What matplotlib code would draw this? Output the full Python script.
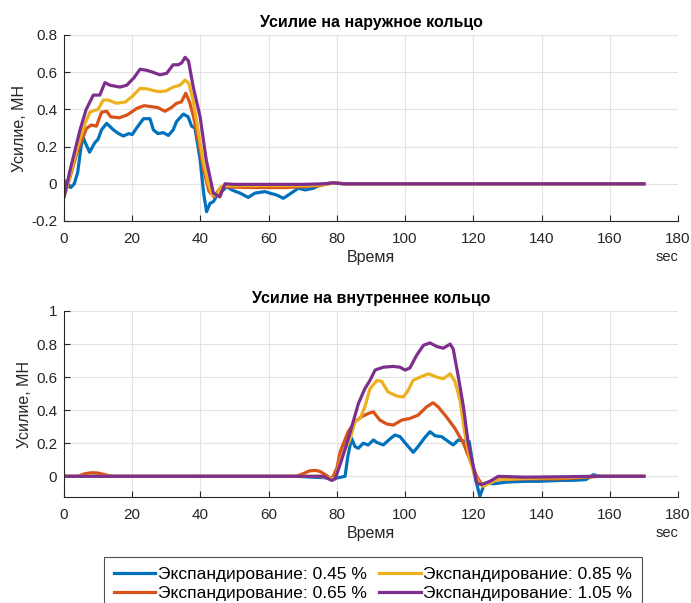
import matplotlib
matplotlib.use("Agg")
import matplotlib.pyplot as plt

plt.rcParams['font.family'] = ['Liberation Sans', 'DejaVu Sans']

# MATLAB default line colours
colors = ['#0072BD', '#D95319', '#EDB120', '#7E2F8E']
labels = ['Экспандирование: 0.45 %', 'Экспандирование: 0.65 %',
          'Экспандирование: 0.85 %', 'Экспандирование: 1.05 %']

# ---- outer ring force, MN ----
t_out_045 = [0, 1, 2, 3, 4, 5, 5.6, 6.5, 7.5, 9, 10, 11, 12.5, 14.5, 16, 17.4, 19, 20,
             21.3, 23.3, 25.2, 26.2, 27.5, 29.1, 30.6, 32, 33, 35, 36.4, 37.4, 38.4,
             39.9, 41, 41.8, 42.8, 43.8, 45.2, 46.7, 47.7, 49.2, 51.6, 54, 56, 58.9,
             60.3, 62.3, 64.3, 65.8, 68.7, 70.7, 73.1, 75, 77, 79, 82, 170]
f_out_045 = [0.02, -0.01, -0.02, 0.0, 0.06, 0.2, 0.25, 0.21, 0.17, 0.22, 0.24, 0.29,
             0.325, 0.29, 0.27, 0.257, 0.27, 0.265, 0.30, 0.35, 0.35, 0.29, 0.27, 0.275,
             0.26, 0.29, 0.335, 0.375, 0.36, 0.31, 0.30, 0.13, -0.06, -0.15, -0.105,
             -0.096, -0.05, -0.033, -0.015, -0.033, -0.05, -0.073, -0.05, -0.042, -0.05,
             -0.06, -0.078, -0.06, -0.024, -0.033, -0.024, -0.006, 0.0, 0.004, 0.0, 0.0]

t_out_065 = [0, 2, 4, 6.6, 8, 9.5, 11, 12.5, 13.7, 16.2, 18.5, 21.4, 23.5, 25.5, 27.5,
             29.6, 31.5, 33, 34.4, 35.7, 36.8, 38, 39.5, 41, 42.5, 44, 45.5, 47, 50, 55,
             60, 65, 70, 75, 78, 80, 83, 170]
f_out_065 = [-0.07, 0.05, 0.18, 0.298, 0.316, 0.31, 0.385, 0.39, 0.36, 0.355, 0.37,
             0.406, 0.42, 0.415, 0.41, 0.39, 0.41, 0.433, 0.44, 0.487, 0.44, 0.36, 0.22,
             0.07, -0.04, -0.07, -0.03, -0.015, -0.018, -0.02, -0.02, -0.02, -0.015,
             -0.01, 0.003, 0.004, 0.0, 0.0]

t_out_085 = [0, 2, 4, 6.2, 7.6, 9, 10, 11.5, 13, 15.4, 18, 20, 22.3, 24.5, 26.5, 28.1,
             30, 32, 34, 35.5, 36.6, 37.8, 39.2, 40.8, 42.3, 43.5, 44.8, 46, 48, 55, 65,
             72, 76, 79, 82, 170]
f_out_085 = [-0.07, 0.06, 0.2, 0.325, 0.385, 0.395, 0.40, 0.45, 0.45, 0.433, 0.44, 0.47,
             0.513, 0.51, 0.5, 0.495, 0.5, 0.52, 0.53, 0.558, 0.54, 0.45, 0.3, 0.12, 0.0,
             -0.06, -0.06, -0.015, -0.01, -0.01, -0.01, -0.01, -0.005, 0.004, 0.0, 0.0]

t_out_105 = [0, 2, 4.7, 6.5, 8.6, 10.5, 12, 13.5, 16.4, 18.4, 20.5, 22.3, 24.3, 26, 28.1,
             30.1, 32, 33.5, 34.5, 35.5, 36.5, 37.9, 39.9, 41.7, 43.8, 45.7, 47.2, 50,
             60, 70, 76, 79, 82, 170]
f_out_105 = [-0.07, 0.09, 0.29, 0.4, 0.477, 0.477, 0.544, 0.53, 0.52, 0.53, 0.57, 0.616,
             0.61, 0.6, 0.586, 0.594, 0.64, 0.64, 0.65, 0.68, 0.66, 0.52, 0.36, 0.128,
             -0.05, -0.07, 0.0, -0.003, -0.003, -0.003, 0.0, 0.005, 0.0, 0.0]

# ---- inner ring force, MN ----
t_in_045 = [0, 68, 78, 80, 82.4, 83.2, 84.3, 85.3, 86.3, 87.7, 89.2, 90.7, 91.7, 93.6,
            95.5, 97, 98.5, 100.5, 102.4, 103.8, 105.8, 107.3, 108.8, 110.7, 112.7,
            114.1, 115.6, 118, 118.8, 120.2, 121.9, 123, 123.9, 126, 129.8, 135, 139.5,
            145, 149.3, 153, 155.2, 157.1, 170]
f_in_045 = [0, 0, -0.01, -0.01, 0.0, 0.12, 0.23, 0.18, 0.17, 0.2, 0.19, 0.22, 0.205,
            0.19, 0.225, 0.25, 0.24, 0.19, 0.145, 0.18, 0.235, 0.27, 0.245, 0.24, 0.21,
            0.19, 0.22, 0.21, 0.21, 0.02, -0.12, -0.06, -0.04, -0.045, -0.035, -0.03,
            -0.03, -0.025, -0.024, -0.02, 0.01, 0.0, 0.0]

t_in_065 = [0, 4, 6, 8, 10, 12, 14, 68, 70, 72, 73.6, 75, 77, 78.5, 80, 81, 83.3, 85.3,
            87.2, 89.2, 90.7, 92.6, 94.6, 96.5, 99, 101.4, 103.8, 106.3, 108.2, 109.7,
            112.1, 114.6, 117.1, 119, 121, 122.5, 124, 126, 135, 145, 150, 157, 170]
f_in_065 = [0, 0.0, 0.015, 0.022, 0.02, 0.01, 0.0, 0.0, 0.015, 0.033, 0.036, 0.03, 0.005,
            -0.02, 0.05, 0.15, 0.27, 0.33, 0.36, 0.38, 0.39, 0.34, 0.317, 0.31, 0.34,
            0.35, 0.37, 0.42, 0.445, 0.42, 0.36, 0.29, 0.2, 0.1, 0.0, -0.05, -0.04,
            -0.02, -0.015, -0.015, -0.01, 0.0, 0.0]

t_in_085 = [0, 68, 75, 78.5, 79.5, 81.4, 83.8, 85.3, 86.8, 88.2, 89.7, 91.7, 93.1, 95,
            97.5, 99.5, 100.9, 102.3, 104.4, 106.8, 109.3, 111.2, 113.2, 114.6, 116.1,
            117.5, 119, 120.5, 122, 123, 125, 127, 133, 140, 148, 155, 170]
f_in_085 = [0, 0, 0, -0.015, -0.01, 0.12, 0.22, 0.33, 0.35, 0.42, 0.53, 0.58, 0.575,
            0.51, 0.486, 0.48, 0.52, 0.58, 0.6, 0.62, 0.6, 0.59, 0.62, 0.575, 0.46, 0.26,
            0.1, 0.0, -0.05, -0.06, -0.04, -0.02, -0.015, -0.01, -0.008, 0.0, 0.0]

t_in_105 = [0, 68, 76, 78.5, 79.5, 81.4, 83.8, 86.3, 88.2, 89.7, 91.2, 93.6, 96.5, 98.5,
            100, 101.4, 103.4, 105.4, 107.3, 109.3, 111.2, 113.2, 114.1, 115.6, 117.1,
            118.5, 120, 121, 122.4, 124.9, 127.3, 135, 145, 155, 170]
f_in_105 = [0, 0, 0, -0.025, -0.015, 0.1, 0.26, 0.44, 0.53, 0.58, 0.643, 0.66, 0.665,
            0.66, 0.643, 0.655, 0.733, 0.793, 0.807, 0.785, 0.775, 0.8, 0.77, 0.602,
            0.42, 0.2, 0.06, -0.04, -0.05, -0.03, 0.0, -0.005, -0.003, 0.0, 0.0]

outer = [(t_out_045, f_out_045), (t_out_065, f_out_065),
         (t_out_085, f_out_085), (t_out_105, f_out_105)]
inner = [(t_in_045, f_in_045), (t_in_065, f_in_065),
         (t_in_085, f_in_085), (t_in_105, f_in_105)]

W, H = 691, 603
fig = plt.figure(figsize=(W / 100, H / 100), dpi=100)
ax1 = fig.add_axes([64 / W, 1 - 221 / H, 614 / W, 186 / H])
ax2 = fig.add_axes([64 / W, 1 - 497 / H, 614 / W, 186 / H])


def style_axes(ax, title, ylim, yticks, yticklabels):
    ax.set_xlim(0, 180)
    ax.set_ylim(*ylim)
    ax.set_xticks(range(0, 181, 20))
    ax.set_yticks(yticks)
    ax.set_yticklabels(yticklabels)
    ax.grid(True, color='#e3e3e3', linewidth=0.8)
    ax.set_axisbelow(True)
    for side in ['top', 'right']:
        ax.spines[side].set_visible(False)
    for side in ['left', 'bottom']:
        ax.spines[side].set_color('#262626')
        ax.spines[side].set_linewidth(0.8)
    ax.tick_params(direction='in', length=4, width=0.8, colors='#262626',
                   labelsize=11, labelcolor='#262626')
    ax.tick_params(axis='x', pad=8)
    ax.tick_params(axis='y', pad=5)
    ax.set_title(title, fontsize=11.5, fontweight='bold', pad=6)
    ax.set_xlabel('Время', fontsize=11.5, color='#262626', labelpad=3)
    ax.set_ylabel('Усилие, МН', fontsize=11.5, color='#262626', labelpad=3)
    ax.text(1.0, -0.195, 'sec', transform=ax.transAxes, ha='right', va='center',
            fontsize=10.5, color='#262626')


for (t, f), c, lab in zip(outer, colors, labels):
    ax1.plot(t, f, color=c, linewidth=2.3, label=lab)
for (t, f), c in zip(inner, colors):
    ax2.plot(t, f, color=c, linewidth=2.3)

style_axes(ax1, 'Усилие на наружное кольцо', (-0.2, 0.8),
           [-0.2, 0, 0.2, 0.4, 0.6, 0.8], ['-0.2', '0', '0.2', '0.4', '0.6', '0.8'])
style_axes(ax2, 'Усилие на внутреннее кольцо', (-0.125, 1.0),
           [0, 0.2, 0.4, 0.6, 0.8, 1.0], ['0', '0.2', '0.4', '0.6', '0.8', '1'])

handles, _ = ax1.get_legend_handles_labels()
leg = fig.legend(handles, labels, ncol=2, loc='upper left',
                 bbox_to_anchor=(104 / W, 1 - 557 / H), borderaxespad=0,
                 fontsize=12.5, handlelength=2.4, handletextpad=0.15,
                 columnspacing=0.7, labelspacing=0.25, borderpad=0.55,
                 fancybox=False, frameon=True)
leg.get_frame().set_edgecolor('#262626')
leg.get_frame().set_linewidth(0.8)

fig.savefig('out.png', dpi=100)
